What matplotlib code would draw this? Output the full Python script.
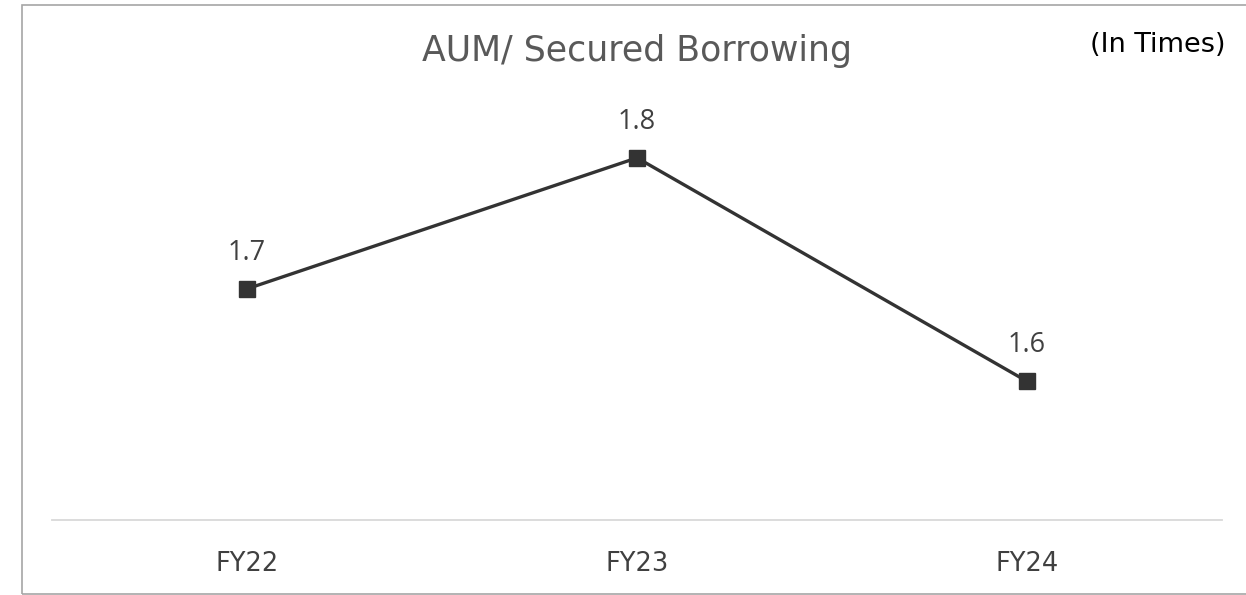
import matplotlib
matplotlib.use("Agg")
import matplotlib.pyplot as plt
from matplotlib.patches import Rectangle

categories = ["FY22", "FY23", "FY24"]
values = [1.70, 1.785, 1.64]
labels = ["1.7", "1.8", "1.6"]

plt.rcParams['font.family'] = ['DejaVu Sans']

W, H = 1246, 595
fig = plt.figure(figsize=(W / 100, H / 100), dpi=100)

# outer border (left, top, bottom; right open)
fig.add_artist(Rectangle((22 / W, 1 - 594 / H), 1.0, (594 - 5) / H, transform=fig.transFigure,
                         fill=False, edgecolor='#a6a6a6', linewidth=1.2))

ax = fig.add_axes([52 / W, (H - 520) / H, 1170 / W, 460 / H])
x = list(range(len(categories)))
ax.plot(x, values, color='#333333', linewidth=2.4, marker='s', markersize=11.5,
        markerfacecolor='#333333', markeredgecolor='#333333', solid_joinstyle='miter')
for xi, v, lab in zip(x, values, labels):
    ax.annotate(lab, (xi, v), xytext=(0, 26), textcoords='offset points', ha='center',
                va='center', fontsize=19.5, color='#404040', family=['Open Sans', 'DejaVu Sans'])

ax.set_xlim(-0.5, 2.5)
ax.set_ylim(1.55, 1.8485)
ax.set_xticks(x)
ax.set_xticklabels(categories, fontsize=18.5, color='#404040')
ax.tick_params(axis='x', length=0, pad=22)
ax.set_yticks([])
for s in ['top', 'right', 'left']:
    ax.spines[s].set_visible(False)
ax.spines['bottom'].set_color('#d9d9d9')
ax.spines['bottom'].set_linewidth(1.3)

fig.text(637 / W, 1 - 51 / H, "AUM/ Secured Borrowing", ha='center', va='center',
         fontsize=25, color='#595959')
fig.text(1158 / W, 1 - 45 / H, "(In Times)", ha='center', va='center',
         fontsize=19.5, color='#000000')

fig.savefig("out.png", dpi=100)
